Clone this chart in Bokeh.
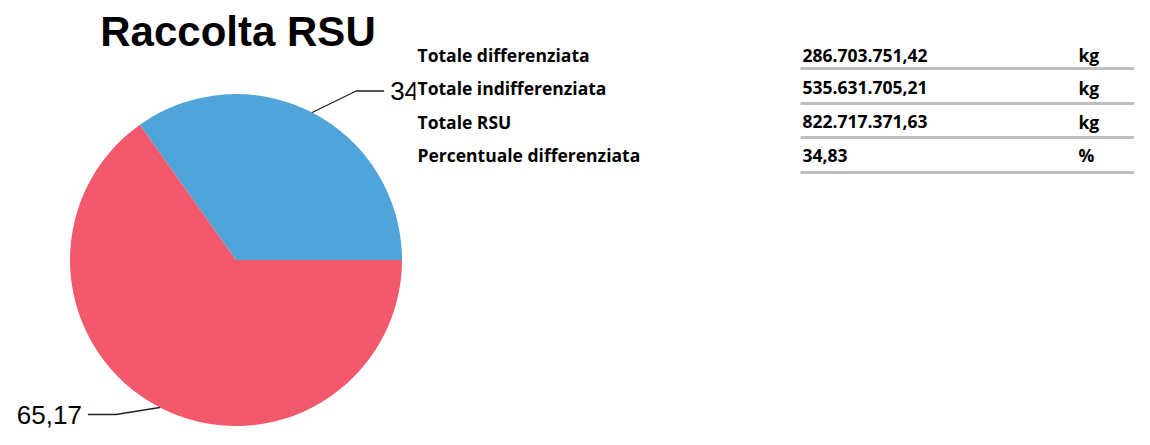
import math
from bokeh.plotting import figure
from bokeh.models import Range1d, ColumnDataSource
from bokeh.core.properties import value
from bokeh.embed import file_html
from bokeh.resources import INLINE

# ---- data ----
title = "Raccolta RSU"
slice_names = ["Totale differenziata", "Totale indifferenziata"]
slice_pct = [34.83, 65.17]
slice_labels = ["34,83", "65,17"]
slice_colors = ["#4FA5DA", "#F2596C"]

row_labels = ["Totale differenziata", "Totale indifferenziata", "Totale RSU", "Percentuale differenziata"]
row_values = ["286.703.751,42", "535.631.705,21", "822.717.371,63", "34,83"]
row_units = ["kg", "kg", "kg", "%"]

# ---- layout (pixel coordinates, y measured downward from the top) ----
W, H = 1134, 429
TOP = 445


def Y(py):
    return TOP - py


p = figure(width=W, height=H, output_backend="svg", toolbar_location=None,
           x_range=Range1d(0, W), y_range=Range1d(TOP - H, TOP),
           min_border=0, outline_line_color=None)
p.axis.visible = False
p.grid.visible = False
p.background_fill_color = "white"
p.border_fill_color = "white"

# pie
CX, CY, R = 235.5, 259.5, 166
total = sum(slice_pct)
starts, ends, mids = [], [], []
acc = 0.0
for v in slice_pct:
    a0 = 2 * math.pi * acc / total
    acc += v
    a1 = 2 * math.pi * acc / total
    starts.append(a0)
    ends.append(a1)
    mids.append((a0 + a1) / 2)

src = ColumnDataSource(dict(x=[CX] * len(slice_pct), y=[Y(CY)] * len(slice_pct),
                            start=starts, end=ends, color=slice_colors))
p.wedge(x="x", y="y", radius=R, start_angle="start", end_angle="end",
        fill_color="color", line_color=None, source=src, direction="anticlock")

# leader lines + labels
for lab, m in zip(slice_labels, mids):
    sx = CX + R * math.cos(m)
    sy = Y(CY) + R * math.sin(m)
    side = 1 if math.cos(m) >= 0 else -1
    vdir = 1 if math.sin(m) >= 0 else -1
    dy = 21.5 if vdir > 0 else 7
    ex = sx + side * 44
    ey = sy + vdir * dy
    hx = ex + side * 28
    p.line([sx, ex, hx], [sy, ey, ey], line_color="#222222", line_width=1.3)
    tx = hx + side * 6
    p.text(x=[tx], y=[ey], text=[lab], text_font=value("Liberation Sans"),
           text_font_size="26px", text_color="black",
           text_align="left" if side > 0 else "right", text_baseline="middle")

# title
p.text(x=[237.5], y=[Y(31)], text=[title], text_font=value("Liberation Sans"),
       text_font_style="bold", text_font_size="42px", text_color="black",
       text_align="center", text_baseline="middle")

# table panel (white background covering overflow)
p.quad(left=[415], right=[W], top=[Y(0)], bottom=[Y(185)],
       fill_color="white", line_color=None)

FONT = value("Open Sans")
FS = "17.5px"
centers = [54.5, 87, 121, 154.5]
line_ys = [68, 103, 137, 172]
for i in range(len(row_labels)):
    cy = Y(centers[i])
    p.text(x=[417], y=[cy], text=[row_labels[i]], text_font=FONT,
           text_font_style="bold", text_font_size=FS, text_color="black",
           text_baseline="middle")
    p.text(x=[802], y=[cy], text=[row_values[i]], text_font=FONT,
           text_font_style="bold", text_font_size=FS, text_color="black",
           text_baseline="middle")
    p.text(x=[1078], y=[cy], text=[row_units[i]], text_font=FONT,
           text_font_style="bold", text_font_size=FS, text_color="black",
           text_baseline="middle")
    p.line([800, W], [Y(line_ys[i]), Y(line_ys[i])], line_color="#BFBFBF", line_width=3)

open("out.html", "w").write(file_html(p, INLINE))
